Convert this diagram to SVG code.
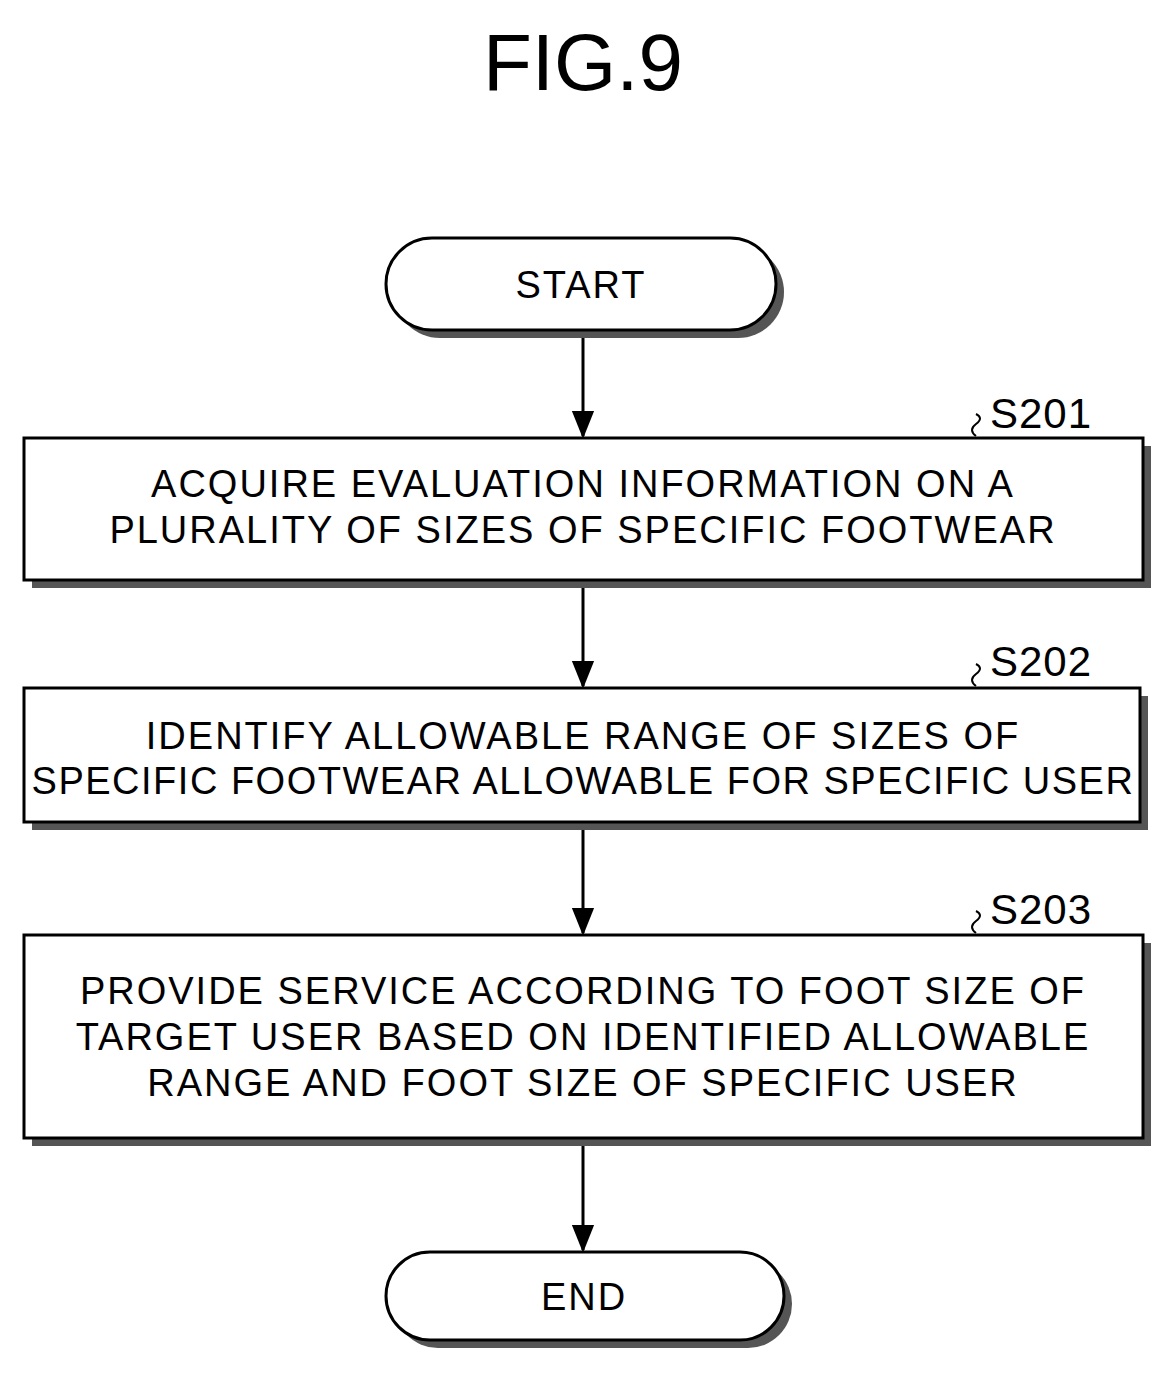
<svg xmlns="http://www.w3.org/2000/svg" width="1175" height="1375" viewBox="0 0 1175 1375">
<style>
.b{fill:#fff;stroke:#000;stroke-width:3}
.s{fill:#555}
.t{font-family:"Liberation Sans",Arial,sans-serif;font-size:38px;text-anchor:middle;fill:#000;letter-spacing:2px}
.l{font-family:"Liberation Sans",Arial,sans-serif;font-size:42px;fill:#000;letter-spacing:1px}
.c{stroke:#000;stroke-width:3;fill:none}
</style>
<defs>
<marker id="ar" viewBox="0 0 20 20" markerWidth="28" markerHeight="28" refX="18" refY="10" orient="auto" markerUnits="userSpaceOnUse"><path d="M0,2L20,10L0,18z"/></marker></defs>
<text x="583" y="90" class="t" style="font-size:80px;letter-spacing:0">FIG.9</text>
<g id="connectors">
<line class="c" x1="583" y1="330" x2="583" y2="436" marker-end="url(#ar)"/>
<line class="c" x1="583" y1="580" x2="583" y2="686" marker-end="url(#ar)"/>
<line class="c" x1="583" y1="822" x2="583" y2="933" marker-end="url(#ar)"/>
<line class="c" x1="583" y1="1138" x2="583" y2="1250" marker-end="url(#ar)"/>
</g>
<g id="start"><rect class="s" x="394" y="246" width="390" height="92" rx="46"/><rect class="b" x="386" y="238" width="390" height="92" rx="46"/><text class="t" x="581" y="298">START</text></g>
<g id="s201"><rect class="s" x="32" y="446" width="1119" height="142"/><rect class="b" x="24" y="438" width="1119" height="142"/>
<text class="t" x="583" y="497">ACQUIRE EVALUATION INFORMATION ON A</text><text class="t" x="583" y="543">PLURALITY OF SIZES OF SPECIFIC FOOTWEAR</text>
<path class="c" style="stroke-width:2" d="M976,436 q-8,-6 0,-12 q8,-6 0,-10"/><text class="l" x="990" y="428">S201</text></g>
<g id="s202"><rect class="s" x="32" y="696" width="1116" height="134"/><rect class="b" x="24" y="688" width="1116" height="134"/>
<text class="t" x="583" y="749">IDENTIFY ALLOWABLE RANGE OF SIZES OF</text><text class="t" x="583" y="794" style="letter-spacing:1.5px">SPECIFIC FOOTWEAR ALLOWABLE FOR SPECIFIC USER</text>
<path class="c" style="stroke-width:2" d="M976,686 q-8,-6 0,-12 q8,-6 0,-10"/><text class="l" x="990" y="676">S202</text></g>
<g id="s203"><rect class="s" x="32" y="943" width="1119" height="203"/><rect class="b" x="24" y="935" width="1119" height="203"/>
<text class="t" x="583" y="1004">PROVIDE SERVICE ACCORDING TO FOOT SIZE OF</text><text class="t" x="583" y="1050">TARGET USER BASED ON IDENTIFIED ALLOWABLE</text><text class="t" x="583" y="1096">RANGE AND FOOT SIZE OF SPECIFIC USER</text>
<path class="c" style="stroke-width:2" d="M976,933 q-8,-6 0,-12 q8,-6 0,-10"/><text class="l" x="990" y="924">S203</text></g>
<g id="end"><rect class="s" x="394" y="1260" width="398" height="88" rx="44"/><rect class="b" x="386" y="1252" width="398" height="88" rx="44"/><text class="t" x="584" y="1310">END</text></g>
</svg>
